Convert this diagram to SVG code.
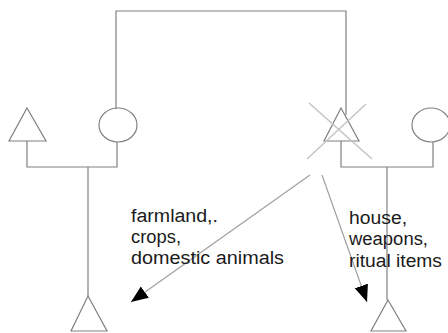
<svg xmlns="http://www.w3.org/2000/svg" width="448" height="333" viewBox="0 0 448 333">
<style>
.sym{fill:none;stroke:#808080;stroke-width:1.2}
.ln{fill:none;stroke:#808080;stroke-width:1.2}
.cross{stroke:#c4c4c4;stroke-width:1.5}
.arr{stroke:#a0a0a0;stroke-width:1.2;fill:none}
.lbl{font-family:"Liberation Sans",Arial,sans-serif;font-size:18px;fill:#1a1a1a}
</style>
<defs>
<marker id="ah" markerUnits="userSpaceOnUse" markerWidth="19" markerHeight="15" refX="17" refY="7" orient="auto">
<path d="M0,0 L17,7 L0,14 z" fill="#000"/>
</marker>
</defs>
<rect width="448" height="333" fill="#fff"/>
<g id="connectors">
<path class="ln" d="M116,109 V11 H346 V115"/>
<path class="ln" d="M27,141 V167 H117 V142"/>
<path class="ln" d="M88,167 V296"/>
<path class="ln" d="M341,141 V167 H433 V142"/>
<path class="ln" d="M387,167 V300"/>
<line class="arr" x1="310" y1="175" x2="131" y2="302" marker-end="url(#ah)"/>
<line class="arr" x1="322" y1="175" x2="367" y2="302" marker-end="url(#ah)"/>
</g>
<g id="left-father"><polygon class="sym" points="27,108 46,141 9,141"/></g>
<g id="left-mother"><ellipse class="sym" cx="118" cy="125" rx="19" ry="17"/></g>
<g id="ego-deceased">
<polygon class="sym" points="341,108 359,141 324,141"/>
<line class="cross" x1="309" y1="103" x2="372" y2="159"/>
<line class="cross" x1="366" y1="104" x2="307" y2="159"/>
</g>
<g id="right-mother"><ellipse class="sym" cx="431" cy="125" rx="19" ry="17"/></g>
<g id="left-child"><polygon class="sym" points="88,296 107,331 71,331"/></g>
<g id="right-child"><polygon class="sym" points="388,300 406,331 371,331"/></g>
<g id="labels">
<text class="lbl" x="131" y="221.5" textLength="87" lengthAdjust="spacingAndGlyphs">farmland,.</text>
<text class="lbl" x="131" y="242.5" textLength="50" lengthAdjust="spacingAndGlyphs">crops,</text>
<text class="lbl" x="131" y="263.5" textLength="153" lengthAdjust="spacingAndGlyphs">domestic animals</text>
<text class="lbl" x="349" y="223.5" textLength="58" lengthAdjust="spacingAndGlyphs">house,</text>
<text class="lbl" x="349" y="245" textLength="79" lengthAdjust="spacingAndGlyphs">weapons,</text>
<text class="lbl" x="349" y="266.5" textLength="93" lengthAdjust="spacingAndGlyphs">ritual items</text>
</g>
</svg>
